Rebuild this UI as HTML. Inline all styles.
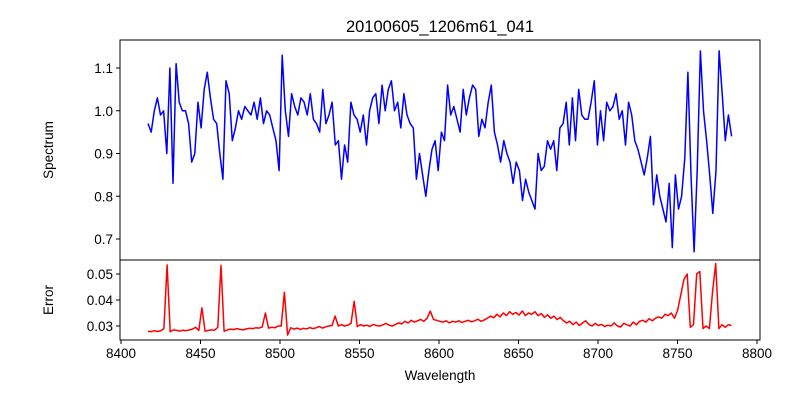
<!DOCTYPE html>
<html><head><meta charset="utf-8"><style>
html,body{margin:0;padding:0;background:#fff;}
svg{display:block;font-family:"Liberation Sans","DejaVu Sans",sans-serif;}
</style></head><body>
<svg id="chart" width="800" height="400" viewBox="0 0 800 400" xmlns="http://www.w3.org/2000/svg">
<rect width="800" height="400" fill="#fff"/>
<text x="440" y="32" font-size="16.5" text-anchor="middle">20100605_1206m61_041</text>
<text transform="translate(53,150) rotate(-90)" font-size="13.5" text-anchor="middle">Spectrum</text>
<text transform="translate(53,300) rotate(-90)" font-size="13.5" text-anchor="middle">Error</text>
<text x="440" y="380" font-size="13.5" text-anchor="middle">Wavelength</text>
<g id="g"></g>
</svg>
<script>
const fluxValues = [
0.97,0.95,1.00,1.03,0.99,1.00,0.90,1.10,0.83,1.11,1.02,1.00,
1.00,0.97,0.88,0.90,1.02,0.96,1.05,1.09,1.03,0.98,0.97,0.90,0.84,1.07,1.04,
0.93,0.96,1.00,0.98,1.01,1.00,0.99,1.02,0.98,1.03,0.97,1.00,0.99,0.96,0.93,
0.86,1.13,1.00,0.94,1.04,1.01,0.99,1.03,1.02,0.99,1.04,0.98,0.97,0.95,1.05,0.97,0.99,1.02,0.92,0.93,0.84,0.92,0.88,
1.02,0.99,0.98,0.95,0.99,0.92,1.00,1.03,1.04,0.97,1.06,1.00,1.05,1.07,1.00,1.02,0.96,1.04,0.99,0.97,0.96,0.84,0.90,0.85,0.80,0.86,0.91,0.93,0.86,0.95,0.93,1.06,0.99,1.01,0.98,0.95,1.05,0.99,1.03,1.06,1.05,0.94,0.98,0.96,1.02,1.06,0.95,0.92,0.88,0.93,0.90,0.88,0.83,0.88,0.86,0.79,0.84,0.81,0.79,0.77,0.90,0.86,
0.87,0.93,0.91,0.93,0.86,0.96,0.97,1.02,0.92,1.03,0.93,1.05,0.99,0.98,0.98,1.02,1.07,0.92,1.00,0.93,1.02,1.00,1.01,1.04,0.98,1.00,0.92,1.02,0.99,0.93,0.91,0.88,0.85,0.89,0.94,0.78,0.85,0.80,0.77,0.74,0.83,0.68,0.85,0.77,0.80,0.89,1.09,0.85,0.67,0.86,1.14,1.00,0.93,0.85,0.76,0.86,1.14,1.04,0.93,0.99,0.94
];
const errorValues = [
0.0280,0.0278,0.0282,0.0279,0.0281,0.0290,0.0535,0.0278,
0.0285,0.0283,0.0280,0.0284,0.0282,0.0285,0.0288,0.0295,0.0283,0.0370,0.0280,
0.0283,0.0285,0.0284,0.0295,0.0533,0.0280,
0.0285,0.0288,0.0286,0.0290,0.0287,0.0285,0.0289,0.0291,0.0290,0.0293,0.0292,0.0296,0.0350,0.0292,
0.0295,0.0293,0.0300,0.0300,0.0430,0.0265,
0.0293,0.0288,0.0292,0.0287,0.0291,0.0289,0.0294,0.0290,0.0293,0.0298,0.0292,0.0297,0.0300,0.0302,
0.0338,0.0300,0.0305,0.0300,0.0303,0.0310,0.0395,0.0298,
0.0305,0.0300,0.0303,0.0298,0.0306,0.0302,0.0300,0.0304,0.0310,0.0303,0.0300,0.0306,0.0312,0.0308,0.0318,0.0312,0.0322,0.0315,0.0320,0.0325,0.0318,0.0330,
0.0357,0.0325,
0.0322,0.0318,0.0315,0.0320,0.0312,0.0318,0.0315,0.0320,0.0314,0.0318,
0.0322,0.0316,0.0320,0.0326,0.0318,0.0323,0.0330,0.0338,0.0332,0.0345,0.0335,0.0350,0.0340,0.0355,0.0345,0.0352,0.0342,0.0358,0.0340,0.0350,
0.0345,0.0355,0.0340,0.0348,0.0333,0.0343,0.0330,0.0338,0.0325,0.0333,
0.0320,0.0312,0.0318,0.0305,0.0315,0.0302,0.0312,0.0320,0.0306,0.0300,0.0310,0.0302,0.0306,0.0298,0.0303,0.0300,0.0312,0.0300,0.0296,0.0310,
0.0305,0.0300,0.0315,0.0305,0.0318,0.0322,0.0315,0.0328,0.0320,0.0330,0.0335,0.0330,0.0345,0.0340,0.0350,0.0330,
0.0360,0.0420,0.0480,0.0500,0.0295,0.0305,0.0500,0.0510,0.0290,0.0300,0.0290,0.0430,0.0540,0.0290,0.0305,0.0295,0.0305,0.0302
];
const wavelengthRange = [8417, 8784];
const xTicks = [8400,8450,8500,8550,8600,8650,8700,8750,8800];
const fluxTicks = [0.7,0.8,0.9,1.0,1.1];
const fluxTickLabels = ["0.7","0.8","0.9","1.0","1.1"];
const errTicks = [0.03,0.04,0.05];
const errTickLabels = ["0.03","0.04","0.05"];

const NS="http://www.w3.org/2000/svg";
const g=document.getElementById('g');
const L=120,R=760,T1=40,B1=260,T2=260,B2=340;
const xS=v=>121+(v-8400)*1.59;
const yF=v=>68+(1.1-v)*427.5;
const yE=v=>274+(0.05-v)*2600;
function mk(tag,attrs){const e=document.createElementNS(NS,tag);for(const k in attrs)e.setAttribute(k,attrs[k]);g.appendChild(e);return e;}
function lam(i,n){return wavelengthRange[0]+i*(wavelengthRange[1]-wavelengthRange[0])/(n-1);}

let p=fluxValues.map((v,i)=>(i?'L':'M')+xS(lam(i,fluxValues.length)).toFixed(1)+','+yF(v).toFixed(1)).join('');
let fl=mk('path',{d:p,fill:'none',stroke:'#0000ff','stroke-width':1.5,'stroke-linejoin':'round'});


p=errorValues.map((v,i)=>(i?'L':'M')+xS(lam(i,errorValues.length)).toFixed(1)+','+yE(v).toFixed(1)).join('');
let el=mk('path',{d:p,fill:'none',stroke:'#ff0000','stroke-width':1.5,'stroke-linejoin':'round'});



let f1=mk('rect',{x:L,y:T1,width:R-L,height:B1-T1,fill:'none',stroke:'#000','stroke-width':1});


let f2=mk('rect',{x:L,y:T2,width:R-L,height:B2-T2,fill:'none',stroke:'#000','stroke-width':1});



xTicks.forEach(t=>{const x=xS(t);
 mk('line',{x1:x,x2:x,y1:B2,y2:B2+4,stroke:'#000'});
 const tx=mk('text',{x:x,y:B2+18,'font-size':13.5,'text-anchor':'middle'});tx.textContent=t;
 
 
});
fluxTicks.forEach((t,i)=>{const y=yF(t);
 mk('line',{x1:L-4,x2:L,y1:y,y2:y,stroke:'#000'});
 const tx=mk('text',{x:L-7,y:y+5,'font-size':13.5,'text-anchor':'end'});tx.textContent=fluxTickLabels[i];
 
 
});
errTicks.forEach((t,i)=>{const y=yE(t);
 mk('line',{x1:L-4,x2:L,y1:y,y2:y,stroke:'#000'});
 const tx=mk('text',{x:L-7,y:y+5,'font-size':13.5,'text-anchor':'end'});tx.textContent=errTickLabels[i];
 
 
});
</script>
</body></html>
